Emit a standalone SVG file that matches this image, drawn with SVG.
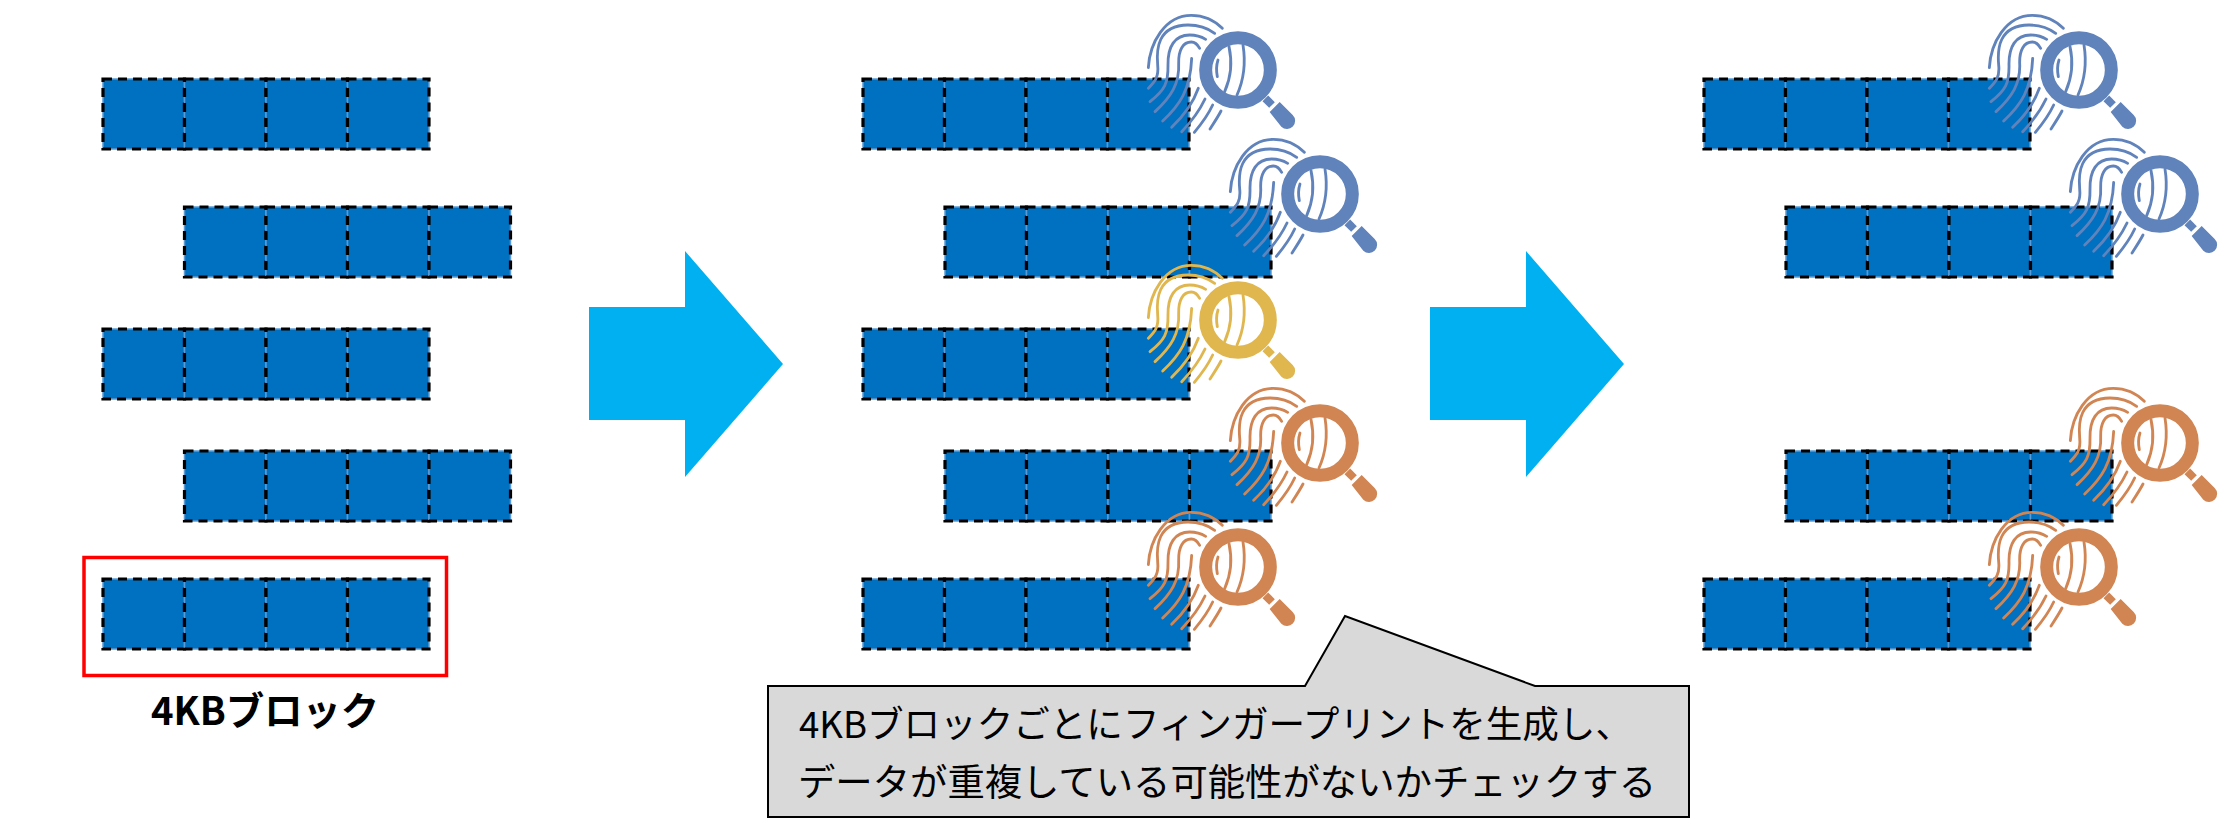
<svg xmlns="http://www.w3.org/2000/svg" xmlns:xlink="http://www.w3.org/1999/xlink" width="2218" height="831" viewBox="0 0 2218 831">
<style>
.bg{fill:#fff}
.cell{fill:#0070c0;stroke:#5b9bd5;stroke-width:1.5}
.dash{fill:none;stroke:#000;stroke-width:3.2;stroke-dasharray:9 6}
.arrow{fill:#00b0f0}
.fl{fill:none;stroke:currentColor;stroke-width:8.5;stroke-linecap:round}
.ring{fill:none;stroke:currentColor;stroke-width:39}
.neck{fill:none;stroke:currentColor;stroke-width:24}
.grip{fill:currentColor}
.blue{color:#6083bb}
.yellow{color:#e0b64f}
.orange{color:#d08553}
.jp{font-family:"Noto Sans CJK JP","Noto Sans",sans-serif;fill:#000}
</style>
<defs>
<g id="cell"><rect class="cell" x="0" y="0" width="81.5" height="70"/><rect class="dash" x="0" y="0" width="81.5" height="70"/></g>
<g id="bar">
<use href="#cell" x="0"/><use href="#cell" x="81.5"/><use href="#cell" x="163"/><use href="#cell" x="244.500"/>
</g>
<g id="fp" transform="scale(.3333) translate(-415 -210)">
<path class="fl" d="M146 203C150 130 195 46 275 46C315 46 345 62 368 85"/>
<path class="fl" d="M146 265C165 245 178 232 174 195C170 150 172 76 265 75C300 75 325 85 345 100"/>
<path class="fl" d="M151 305C195 270 206 250 205 195C204 140 225 105 270 105C290 105 305 110 318 118"/>
<path class="fl" d="M166 335C215 290 240 250 237 190C236 150 250 126 275 126C285 126 293 132 300 145"/>
<path class="fl" d="M189 363C240 315 272 270 276 175"/>
<path class="fl" d="M216 382C255 345 280 310 296 265"/>
<path class="fl" d="M246 395C275 365 298 335 316 297"/>
<path class="fl" d="M284 397C305 372 325 345 339 315"/>
<path class="fl" d="M331 387C342 370 354 352 364 333"/>
<path class="fl" d="M355 180C350 195 350 215 353 230"/>
<path class="fl" d="M388 140C398 185 395 230 375 275"/>
<path class="fl" d="M430 135C438 185 432 240 412 285"/>
<circle class="ring" cx="415" cy="210" r="97"/>
<path class="neck" d="M497 295L517 315"/>
<path class="grip" d="M510 336L540 306L579 345A24 24 0 0 1 545 380Z"/>
</g>
</defs>
<rect class="bg" width="2218" height="831"/>

<g id="connectors">
<path class="arrow" d="M589 307H685V251L783 364L685 477V420H589Z"/>
<path class="arrow" d="M1430 307H1526V251L1624 364L1526 477V420H1430Z"/>
</g>

<g id="left-col">
<use id="l1" href="#bar" x="103" y="79"/>
<use id="l2" href="#bar" x="184.500" y="207"/>
<use id="l3" href="#bar" x="103" y="329"/>
<use id="l4" href="#bar" x="184.500" y="451"/>
<use id="l5" href="#bar" x="103" y="579"/>
<rect id="selection" x="84" y="557.500" width="362.500" height="118" fill="none" stroke="#f00" stroke-width="3.500"/>
<text id="label-4kb" class="jp" x="151" y="725" font-size="39" font-weight="700" textLength="228" lengthAdjust="spacingAndGlyphs">4KBブロック</text>
</g>

<g id="mid-col">
<use id="m1" href="#bar" x="863" y="79"/>
<use id="m2" href="#bar" x="945" y="207"/>
<use id="m3" href="#bar" x="863" y="329"/>
<use id="m4" href="#bar" x="945" y="451"/>
<use id="m5" href="#bar" x="863" y="579"/>
<use id="mi1" class="blue" href="#fp" x="1238" y="70"/>
<use id="mi2" class="blue" href="#fp" x="1320" y="194"/>
<use id="mi3" class="yellow" href="#fp" x="1238" y="320"/>
<use id="mi4" class="orange" href="#fp" x="1320" y="443"/>
<use id="mi5" class="orange" href="#fp" x="1238" y="567"/>
</g>

<g id="right-col">
<use id="r1" href="#bar" x="1704" y="79"/>
<use id="r2" href="#bar" x="1786" y="207"/>
<use id="r4" href="#bar" x="1786" y="451"/>
<use id="r5" href="#bar" x="1704" y="579"/>
<use id="ri1" class="blue" href="#fp" x="2079" y="70"/>
<use id="ri2" class="blue" href="#fp" x="2160" y="194"/>
<use id="ri4" class="orange" href="#fp" x="2160" y="443"/>
<use id="ri5" class="orange" href="#fp" x="2079" y="567"/>
</g>

<g id="callout">
<path d="M768 686H1305L1345 616L1535 686H1689V817H768Z" fill="#d9d9d9" stroke="#000" stroke-width="2"/>
<text class="jp" x="799" y="738" font-size="37" textLength="833" lengthAdjust="spacingAndGlyphs">4KBブロックごとにフィンガープリントを生成し、</text>
<text class="jp" x="798" y="796" font-size="37" textLength="858" lengthAdjust="spacingAndGlyphs">データが重複している可能性がないかチェックする</text>
</g>
</svg>
